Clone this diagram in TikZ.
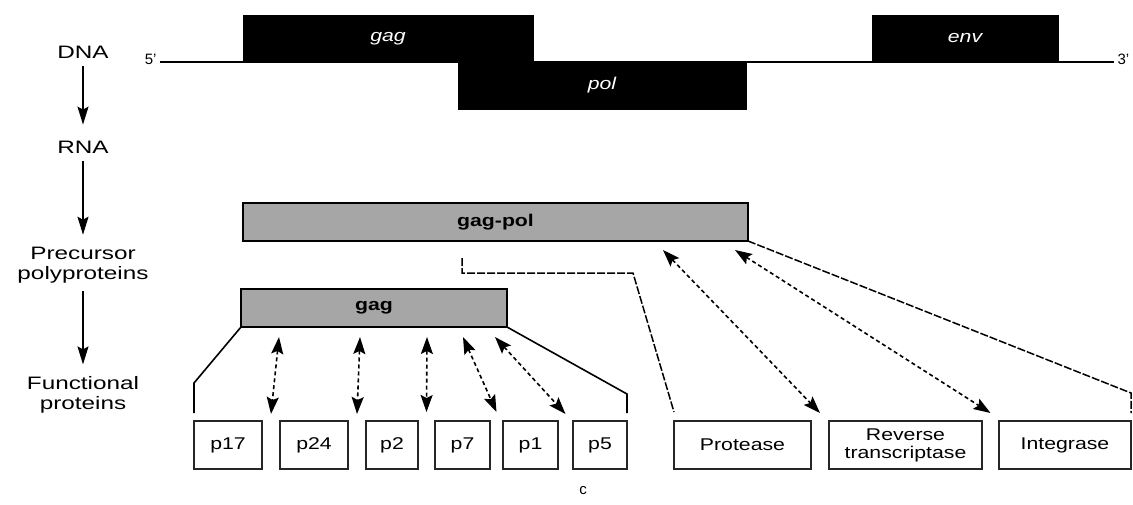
\documentclass[tikz,border=0pt]{standalone}
\usepackage{fontspec}
\setmainfont{Liberation Sans}
\usetikzlibrary{arrows.meta, positioning, calc}

\newcommand\stretchlbl[1]{\scalebox{1.35}[1]{#1}}
\newcommand\stretchbox[1]{\scalebox{1.25}[1]{#1}}

\begin{document}
\begin{tikzpicture}[
    x=1pt, y=-1pt,
    >={Stealth[length=17pt,width=12pt,inset=3pt]},
    stage/.style={align=center, inner sep=0pt, font=\fontsize{18}{20}\selectfont},
    gene/.style={rectangle, fill=black, draw=black, text=white, minimum height=47pt, inner sep=0pt, outer sep=0pt, anchor=north west, font=\fontsize{17}{19}\selectfont\itshape},
    poly/.style={rectangle, fill=black!35, draw=black, line width=2pt, minimum height=38pt, inner sep=0pt, outer sep=0pt, anchor=north west, font=\fontsize{17}{19}\selectfont\bfseries},
    prot/.style={rectangle, draw=black!85, fill=white, line width=1.5pt, minimum height=48pt, inner sep=0pt, outer sep=0pt, anchor=north west, align=center, font=\fontsize{17}{18}\selectfont},
    cut/.style={<->, line width=1.6pt, dash pattern=on 4pt off 3pt},
    link/.style={line width=1.6pt},
    stagearrow/.style={-{Stealth[length=18pt,width=11pt,inset=3pt]}, line width=1.6pt},
    polbracket/.style={line width=1.5pt, dash pattern=on 8pt off 2pt}
]
    \useasboundingbox (0,0) rectangle (1133,504);

    % stages on the left
    \node (dna) [stage] at (83,52) {\stretchlbl{DNA}};
    \node (rna) [stage] at (83,147) {\stretchlbl{RNA}};
    \node (precursor) [stage] at (83,265) {\stretchlbl{Precursor}\\\stretchlbl{polyproteins}};
    \node (functional) [stage] at (83,395) {\stretchlbl{Functional}\\\stretchlbl{proteins}};

    \draw[stagearrow, shorten <=8pt, shorten >=16pt] (dna) -- (rna);
    \draw[stagearrow, shorten <=8pt, shorten >=12pt] (rna) -- (precursor);
    \draw[stagearrow, shorten <=8pt, shorten >=12pt] (precursor) -- (functional);

    % genome
    \node (five) [anchor=base east, font=\fontsize{15}{17}\selectfont] at (160,64) {5'};
    \node (three) [anchor=base west, font=\fontsize{15}{17}\selectfont] at (1114,64) {3'};
    \node (gagdna) [gene, minimum width=290pt] at (243,15) {\stretchbox{gag}\hspace{64pt}};
    \node (poldna) [gene, minimum width=288pt] at (458,62) {\stretchbox{pol}};
    \node (envdna) [gene, minimum width=186pt] at (872,15) {\stretchbox{env}};
    \draw[link] (five.east |- gagdna.south) -- (three.west |- gagdna.south);

    % polyproteins
    \node (gagpol) [poly, minimum width=505pt] at (243,203) {\stretchbox{gag-pol}};
    \node (gag) [poly, minimum width=266pt] at (241,289) {\stretchbox{gag}};

    % gag products
    \node (p17) [prot, minimum width=68pt] at (194,421) {\stretchbox{p17}};
    \node (p24) [prot, minimum width=68pt, right=18pt of p17] {\stretchbox{p24}};
    \node (p2) [prot, minimum width=52pt, right=18pt of p24] {\stretchbox{p2}};
    \node (p7) [prot, minimum width=55pt, right=17pt of p2] {\stretchbox{p7}};
    \node (p1) [prot, minimum width=55pt, right=13pt of p7] {\stretchbox{p1}};
    \node (p5) [prot, minimum width=54pt, right=15pt of p1] {\stretchbox{p5}};

    % pol products
    \node (protease) [prot, minimum width=137pt] at (674,421) {\stretchbox{Protease}};
    \node (revtrans) [prot, minimum width=153pt, right=18pt of protease] {\stretchbox{Reverse}\\\stretchbox{transcriptase}};
    \node (integrase) [prot, minimum width=132pt, right=17pt of revtrans] {\stretchbox{Integrase}};

    \node (caption) [font=\fontsize{15}{17}\selectfont] at (583,491) {c};

    % gag brackets and cleavage sites
    \draw[link] (gag.south west) -- ([yshift=38pt]p17.north west) -- ([yshift=8pt]p17.north west);
    \draw[link] (gag.south east) -- ([yshift=27pt]p5.north east) -- ([yshift=8pt]p5.north east);
    \draw[cut] ([xshift=38pt,yshift=-10pt]gag.south west) -- ($(p17.north east)!.5!(p24.north west)+(0,-7)$);
    \draw[cut] ([xshift=119pt,yshift=-10pt]gag.south west) -- ($(p24.north east)!.5!(p2.north west)+(0,-7)$);
    \draw[cut] ([xshift=186pt,yshift=-10pt]gag.south west) -- ($(p2.north east)!.5!(p7.north west)+(0,-9)$);
    \draw[cut] ([xshift=222pt,yshift=-10pt]gag.south west) -- ($(p7.north east)!.5!(p1.north west)+(0,-9)$);
    \draw[cut] ([xshift=254pt,yshift=-10pt]gag.south west) -- ($(p1.north east)!.5!(p5.north west)+(0,-7)$);

    % pol brackets and cleavage sites
    \draw[polbracket] ([xshift=219pt,yshift=-17pt]gagpol.south west) -- ++(0,15) -- ++(171,0) -- ([yshift=9pt]protease.north west);
    \draw[polbracket] (gagpol.south east) -- ([yshift=28pt]integrase.north east) -- ([yshift=8pt]integrase.north east);
    \draw[cut] ([xshift=420pt,yshift=-9pt]gagpol.south west) -- ($(protease.north east)!.5!(revtrans.north west)+(0,-8)$);
    \draw[cut] ([xshift=492pt,yshift=-9pt]gagpol.south west) -- ($(revtrans.north east)!.5!(integrase.north west)+(0,-8)$);
\end{tikzpicture}
\end{document}
